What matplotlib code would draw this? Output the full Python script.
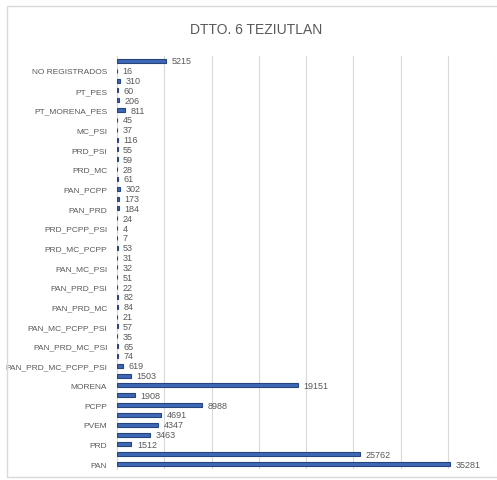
import matplotlib.pyplot as plt
from matplotlib.patches import Rectangle

# categories bottom-up (only every other name is shown on the axis, like the original)
categories = [
    "PAN", "PRI", "PRD", "PT", "PVEM", "MC", "PCPP", "PSI", "MORENA", "PES",
    "PAN_PRD_MC_PCPP_PSI", "PAN_PRD_MC_PCPP", "PAN_PRD_MC_PSI", "PAN_PRD_PCPP_PSI",
    "PAN_MC_PCPP_PSI", "PRD_MC_PCPP_PSI", "PAN_PRD_MC", "PAN_PRD_PCPP",
    "PAN_PRD_PSI", "PAN_MC_PCPP", "PAN_MC_PSI", "PAN_PCPP_PSI",
    "PRD_MC_PCPP", "PRD_MC_PSI", "PRD_PCPP_PSI", "MC_PCPP_PSI",
    "PAN_PRD", "PAN_MC", "PAN_PCPP", "PAN_PSI", "PRD_MC", "PRD_PCPP",
    "PRD_PSI", "MC_PCPP", "MC_PSI", "PCPP_PSI", "PT_MORENA_PES", "PT_MORENA",
    "PT_PES", "MORENA_PES", "NO REGISTRADOS", "NULOS",
]
votes = [
    35281, 25762, 1512, 3463, 4347, 4691, 8988, 1908, 19151, 1503,
    619, 74, 65, 35, 57, 21, 84, 82, 22, 51, 32, 31, 53, 7, 4, 24,
    184, 173, 302, 61, 28, 59, 55, 116, 37, 45, 811, 206, 60, 310, 16, 5215,
]

bar_color = "#3E67B5"
edge_color = "#26457F"
text_color = "#595959"

plt.rcParams['font.family'] = ['Liberation Sans', 'DejaVu Sans']

fig = plt.figure(figsize=(4.97, 4.81), dpi=100)

# chart frame like the excel chart box
fig.patches.append(Rectangle((7 / 497, 3 / 481), 1.0, 471 / 481, transform=fig.transFigure,
                             fill=False, edgecolor="#D9D9D9", linewidth=1.0))

ax = fig.add_axes([117 / 497, 11 / 481, 378 / 497, 413 / 481])

ypos = list(range(len(categories)))
ax.barh(ypos, votes, height=0.42, color=bar_color, edgecolor=edge_color, linewidth=0.8, zorder=3)

for y, v in zip(ypos, votes):
    ax.annotate(str(v), (v, y), xytext=(4, 0), textcoords="offset points",
                va="center", ha="left", fontsize=6.5, color=text_color)

ax.set_xlim(0, 40000)
ax.set_ylim(-0.5, len(categories) - 0.5)
ax.set_xticks(range(0, 40001, 5000))
ax.set_xticklabels([])
ax.tick_params(axis="x", length=0)
ax.grid(axis="x", color="#D9D9D9", linewidth=0.8, zorder=0)

ax.set_yticks(ypos)
ax.set_yticklabels([c if i % 2 == 0 else "" for i, c in enumerate(categories)],
                   fontsize=6, color=text_color)
ax.tick_params(axis="y", length=0, pad=7)

for side in ["top", "right", "bottom"]:
    ax.spines[side].set_visible(False)
ax.spines["left"].set_color("#D9D9D9")

fig.text(256 / 497, 1 - 30 / 481, "DTTO. 6 TEZIUTLAN", ha="center", va="center",
         fontsize=10, color=text_color)

fig.savefig("out.png", dpi=100)
